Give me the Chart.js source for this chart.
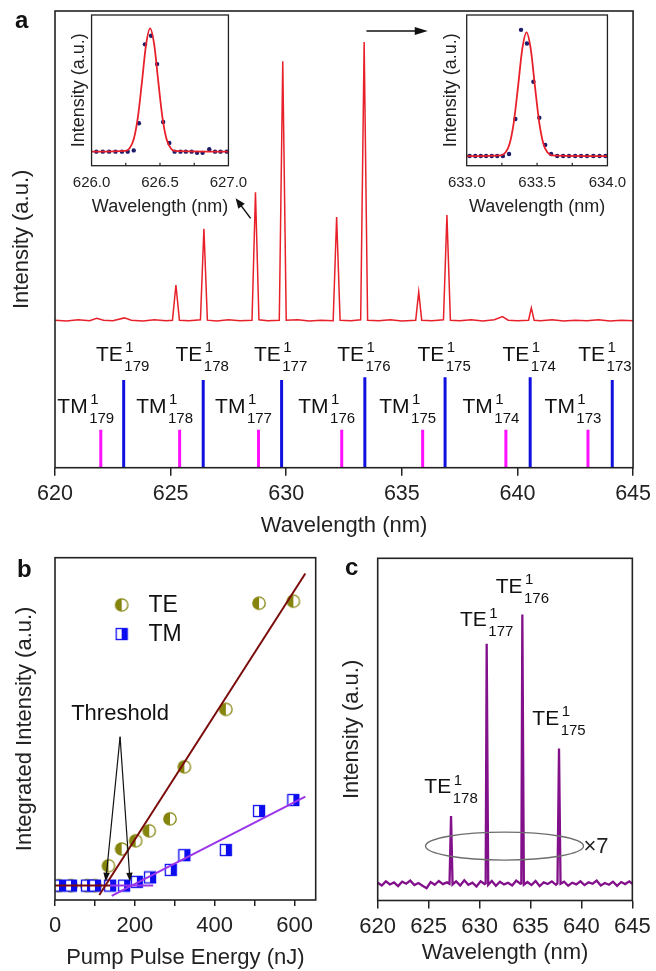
<!DOCTYPE html>
<html>
<head>
<meta charset="utf-8">
<script src="https://cdn.jsdelivr.net/npm/chart.js@4.4.0/dist/chart.umd.min.js"></script>
<style>
  body { margin: 0; background: #fff; width: 656px; height: 971px; overflow: hidden; position: relative; }
  .holder { position: absolute; }
  .tag { position: absolute; font: bold 24px "Liberation Sans", Arial, sans-serif; line-height: 24px; color: #111; }
</style>
</head>
<body>
<div class="holder" style="left:0;top:0;width:656px;height:539px"><canvas id="chartA"></canvas></div>
<div class="holder" style="left:65px;top:10px;width:190px;height:208px"><canvas id="insetL"></canvas></div>
<div class="holder" style="left:440px;top:10px;width:194px;height:208px"><canvas id="insetR"></canvas></div>
<div class="holder" style="left:12px;top:548px;width:312px;height:423px"><canvas id="chartB"></canvas></div>
<div class="holder" style="left:339px;top:548px;width:317px;height:418px"><canvas id="chartC"></canvas></div>
<div class="tag" style="left:15px;top:8px">a</div>
<div class="tag" style="left:17px;top:557px">b</div>
<div class="tag" style="left:345px;top:555px">c</div>
<script>
var FONT = '"Liberation Sans", Arial, Helvetica, sans-serif';
Chart.defaults.font.family = FONT;
Chart.defaults.color = '#222';
Chart.defaults.animation = false;
Chart.defaults.plugins.legend.display = false;
Chart.defaults.plugins.tooltip.enabled = false;

// ---------- panel a : lasing spectrum ----------
var aWave = [620.0, 620.5, 621.0, 621.5, 621.8, 622.1, 622.5, 623.0, 623.3, 623.8, 624.3, 624.8,
  625.08, 625.23, 625.38, 625.8, 626.29, 626.44, 626.59, 627.0, 627.5, 628.0, 628.52, 628.67, 628.82,
  629.2, 629.7, 629.85, 630.0, 630.5, 631.0, 631.5, 632.03, 632.18, 632.33, 632.8, 633.22, 633.37, 633.52,
  634.0, 634.5, 635.0, 635.6, 635.73, 635.86, 636.3, 636.8, 636.95, 637.1, 637.5, 638.0, 638.5,
  639.0, 639.35, 639.6, 640.0, 640.48, 640.6, 640.72, 641.0, 641.5, 642.0, 642.5, 643.0, 643.5, 644.0, 644.5, 645.0];
var aInt = [32.3, 32.1, 32.4, 32.2, 32.7, 32.3, 32.2, 32.8, 32.3, 32.1, 32.4, 32.2,
  32.3, 40.0, 32.3, 32.2, 32.4, 52.3, 32.3, 32.1, 32.4, 32.2, 32.3, 60.3, 32.4,
  32.2, 32.3, 89.0, 32.3, 32.4, 32.1, 32.3, 32.2, 54.9, 32.3, 32.2, 32.4, 93.2, 32.3,
  32.2, 32.4, 32.1, 32.3, 38.5, 32.3, 32.2, 32.4, 55.3, 32.3, 32.2, 32.4, 32.1,
  32.4, 33.1, 32.3, 32.2, 32.3, 35.0, 32.3, 32.2, 32.4, 32.1, 32.3, 32.2, 32.4, 32.1, 32.3, 32.2];
var teWave = [622.97, 626.41, 629.8, 633.4, 636.87, 640.55, 644.1];
var teTop = [19.2, 19.2, 19.2, 19.8, 19.8, 19.8, 19.2];
var tmWave = [621.98, 625.39, 628.8, 632.4, 635.9, 639.5, 643.05];
var tmTop = [8.3, 8.3, 8.3, 8.3, 8.3, 8.3, 8.3];
var modeOrder = ['179', '178', '177', '176', '175', '174', '173'];

// insets (measured points and Gaussian fit, normalised)
var insetLWave = [626.035, 626.082, 626.128, 626.175, 626.222, 626.264, 626.308, 626.346, 626.39, 626.435,
  626.479, 626.523, 626.568, 626.607, 626.65, 626.689, 626.731, 626.771, 626.811, 626.86, 626.902, 626.942, 626.988];
var insetLDots = [0, 0, 0, 0, 0, 0, 0.01, 0.23, 0.87, 0.94, 0.71, 0.24, 0.07, 0, 0, 0, 0, -0.01, -0.01, 0.02, 0, 0, 0];
var insetLFitWave = [626.0, 626.248, 626.278, 626.308, 626.338, 626.368, 626.398, 626.428, 626.458, 626.488,
  626.518, 626.548, 626.578, 626.608, 627.0];
var insetLFit = [0, 0.006, 0.028, 0.10, 0.275, 0.563, 0.866, 1.0, 0.866, 0.563, 0.275, 0.10, 0.028, 0.006, 0];
var insetLTicks = [626.0, 626.25, 626.5, 626.75, 627.0];

var insetRWave = [633.021, 633.061, 633.1, 633.138, 633.178, 633.217, 633.257, 633.301, 633.346, 633.386,
  633.428, 633.474, 633.516, 633.558, 633.6, 633.643, 633.685, 633.727, 633.771, 633.813, 633.855, 633.9, 633.944, 633.986];
var insetRDots = [0, 0, 0, 0, 0, 0, 0, 0.016, 0.30, 1.02, 0.91, 0.60, 0.31, 0.09, 0.016, 0, 0, 0, 0, 0, 0, 0, 0, 0];
var insetRFitWave = [633.0, 633.245, 633.275, 633.305, 633.335, 633.365, 633.395, 633.425, 633.455, 633.485,
  633.515, 633.545, 633.575, 633.605, 634.0];
var insetRFit = [0, 0.006, 0.028, 0.10, 0.275, 0.563, 0.866, 1.0, 0.866, 0.563, 0.275, 0.10, 0.028, 0.006, 0];
var insetRTicks = [633.0, 633.25, 633.5, 633.75, 634.0];

// ---------- panel b : integrated intensity vs pump ----------
var teEnergy = [10, 40, 80, 100, 134, 167, 202, 236, 288, 324, 428, 511, 597];
var teYield = [4.2, 4.2, 4.2, 4.2, 10.0, 14.9, 17.3, 20.2, 23.7, 38.9, 55.7, 86.7, 87.3];
var tmEnergy = [10, 40, 80, 100, 138, 173, 205, 238, 290, 324, 428, 511, 597];
var tmYield = [4.2, 4.2, 4.2, 4.2, 4.2, 4.2, 5.3, 6.6, 8.8, 13.1, 14.6, 26.0, 29.2];
var teFitE = [111, 627], teFitY = [1.46, 95.4];
var teFlatE = [0, 138], teFlatY = [4.2, 4.2];
var tmFitE = [142, 627], tmFitY = [1.2, 30.2];
var tmFlatE = [138, 246], tmFlatY = [4.2, 4.2];
var thrApex = [163, 47.7];
var thrTips = [[127, 5.35], [188, 5.35]];
var bTicks = [0, 100, 200, 300, 400, 500, 600];

// ---------- panel c : TE-only spectrum ----------
var cWave = [620.0, 620.4, 620.8, 621.2, 621.6, 622.0, 622.4, 622.8, 623.2, 623.6, 624.0, 624.4, 624.8, 625.2,
  625.6, 626.0, 626.4, 626.8, 627.05, 627.2, 627.35, 627.7, 628.1, 628.5, 628.9, 629.3, 629.7, 630.1, 630.5,
  630.6, 630.7, 630.85, 631.2, 631.6, 632.0, 632.4, 632.8, 633.2, 633.6, 634.0, 634.1, 634.2, 634.35, 634.7,
  635.1, 635.5, 635.9, 636.3, 636.7, 637.1, 637.5, 637.65, 637.8, 637.95, 638.3, 638.7, 639.1, 639.5, 639.9,
  640.3, 640.7, 641.1, 641.5, 641.9, 642.3, 642.7, 643.1, 643.5, 643.9, 644.3, 644.7, 645.0];
var cInt = [5.2, 4.4, 5.6, 4.7, 5.3, 4.2, 5.5, 4.9, 5.8, 4.5, 5.1, 4.3, 3.6, 5.4,
  4.6, 5.7, 4.8, 5.3, 4.9, 24.7, 4.7, 5.6, 4.4, 5.9, 4.6, 5.2, 4.1, 5.6, 4.8,
  5.0, 75.0, 4.6, 5.7, 4.3, 5.5, 4.7, 5.2, 4.4, 5.8, 4.9, 5.0, 83.6, 4.6, 5.4,
  4.5, 5.7, 4.2, 5.3, 4.8, 5.6, 4.6, 5.0, 44.4, 4.9, 5.5, 4.3, 5.2, 4.7, 5.6,
  4.5, 5.3, 4.9, 5.8, 4.4, 5.1, 4.6, 5.5, 4.3, 5.4, 4.8, 5.6, 4.9];
var cPeakWave = [627.2, 630.7, 634.2, 637.8];
var cPeakLabel = ['178', '177', '176', '175'];
var cLabelY = [31.3, 80.1, 89.9, 51.4];

function pts(xs, ys) {
  return xs.map(function (x, i) { return {x: x, y: ys[i]}; });
}

function sticks(xs, tops) {
  var out = [];
  xs.forEach(function (x, i) {
    out.push({x: x, y: 0}, {x: x, y: tops[i]}, {x: x, y: null});
  });
  return out;
}

// box round the plot area
var boxPlugin = {
  id: 'box',
  afterDatasetsDraw: function (chart, args, opts) {
    var a = chart.chartArea, ctx = chart.ctx;
    ctx.save();
    ctx.strokeStyle = '#222';
    ctx.lineWidth = opts.width || 1.5;
    ctx.strokeRect(a.left, a.top, a.right - a.left, a.bottom - a.top);
    ctx.restore();
  }
};

// TE/TM with super- and subscript
function modeLabel(ctx, cx, baseY, main, sup, sub, maxRight) {
  ctx.font = '21px ' + FONT;
  var wMain = ctx.measureText(main).width;
  ctx.font = '15px ' + FONT;
  var wSmall = Math.max(ctx.measureText(sup).width, ctx.measureText(sub).width);
  var total = wMain + 1.5 + wSmall;
  var x0 = cx - total / 2;
  if (maxRight && x0 + total > maxRight) x0 = maxRight - total;
  ctx.fillStyle = '#111';
  ctx.textAlign = 'left';
  ctx.textBaseline = 'alphabetic';
  ctx.font = '21px ' + FONT;
  ctx.fillText(main, x0, baseY);
  ctx.font = '15px ' + FONT;
  ctx.fillText(sup, x0 + wMain + 2.5, baseY - 8.4);
  ctx.fillText(sub, x0 + wMain + 1.5, baseY + 10);
}

function arrow(ctx, x1, y1, x2, y2, len, half) {
  var ang = Math.atan2(y2 - y1, x2 - x1);
  ctx.beginPath();
  ctx.moveTo(x1, y1);
  ctx.lineTo(x2 - Math.cos(ang) * len * 0.8, y2 - Math.sin(ang) * len * 0.8);
  ctx.stroke();
  ctx.beginPath();
  ctx.moveTo(x2, y2);
  ctx.lineTo(x2 - Math.cos(ang) * len - Math.sin(ang) * half, y2 - Math.sin(ang) * len + Math.cos(ang) * half);
  ctx.lineTo(x2 - Math.cos(ang) * len + Math.sin(ang) * half, y2 - Math.sin(ang) * len - Math.cos(ang) * half);
  ctx.closePath();
  ctx.fill();
}

var spectrumNotes = {
  id: 'spectrumNotes',
  afterDatasetsDraw: function (chart) {
    var ctx = chart.ctx, xs = chart.scales.x, ys = chart.scales.y;
    ctx.save();
    teWave.forEach(function (w, i) {
      modeLabel(ctx, xs.getPixelForValue(w) - 1, ys.getPixelForValue(23.4), 'TE', '1', modeOrder[i], chart.chartArea.right - 1.5);
    });
    tmWave.forEach(function (w, i) {
      modeLabel(ctx, xs.getPixelForValue(w) - 15, ys.getPixelForValue(12.0), 'TM', '1', modeOrder[i]);
    });
    ctx.strokeStyle = '#111';
    ctx.fillStyle = '#111';
    ctx.lineWidth = 1.5;
    arrow(ctx, xs.getPixelForValue(633.47), ys.getPixelForValue(95.6), xs.getPixelForValue(636.12), ys.getPixelForValue(95.6), 13, 4);
    arrow(ctx, xs.getPixelForValue(628.46), ys.getPixelForValue(54.6), xs.getPixelForValue(627.81), ys.getPixelForValue(59.0), 10, 4);
    ctx.restore();
  }
};

var chartA = new Chart(document.getElementById('chartA'), {
  type: 'scatter',
  data: {
    datasets: [
      {data: pts(aWave, aInt), showLine: true, borderColor: '#e8202a', borderWidth: 1.5, pointRadius: 0},
      {data: sticks(teWave, teTop), showLine: true, borderColor: '#1010e0', borderWidth: 3, pointRadius: 0, spanGaps: false},
      {data: sticks(tmWave, tmTop), showLine: true, borderColor: '#ff10ff', borderWidth: 3, pointRadius: 0, spanGaps: false}
    ]
  },
  options: {
    responsive: true,
    maintainAspectRatio: false,
    layout: {padding: {left: 9, right: 19.5, top: 11, bottom: 0}},
    scales: {
      x: {
        min: 620, max: 645,
        ticks: {stepSize: 5, font: {size: 21.5}, padding: 5, maxRotation: 0},
        grid: {drawOnChartArea: false, tickLength: 8, color: '#222', tickColor: '#222', lineWidth: 1.5},
        border: {display: false},
        title: {display: true, text: 'Wavelength (nm)', font: {size: 22}, padding: 0},
        afterFit: function (s) { s.height = 71.3; }
      },
      y: {
        min: 0, max: 100,
        ticks: {display: false},
        grid: {display: false},
        border: {display: false},
        title: {display: true, text: 'Intensity (a.u.)', font: {size: 22}, padding: 0},
        afterFit: function (s) { s.width = 46; }
      }
    },
    plugins: {box: {width: 1.6}}
  },
  plugins: [boxPlugin, spectrumNotes]
});

var insetTicks = {
  id: 'insetTicks',
  afterDatasetsDraw: function (chart) {
    var ctx = chart.ctx, a = chart.chartArea, xs = chart.scales.x;
    ctx.save();
    ctx.strokeStyle = '#222';
    ctx.lineWidth = 1.2;
    xs.ticks.forEach(function (t) {
      var px = xs.getPixelForValue(t.value);
      if (px > a.left + 2 && px < a.right - 2) {
        ctx.beginPath();
        ctx.moveTo(px, a.bottom);
        ctx.lineTo(px, a.bottom - 3);
        ctx.stroke();
      }
    });
    ctx.restore();
  }
};

function makeInset(id, dotX, dotY, fitX, fitY, tickVals, yMin, yMax, yWidth) {
  return new Chart(document.getElementById(id), {
    type: 'scatter',
    data: {
      datasets: [
        {data: pts(fitX, fitY), showLine: true, borderColor: '#e8202a', borderWidth: 1.8, pointRadius: 0, cubicInterpolationMode: 'monotone'},
        {data: pts(dotX, dotY), pointRadius: 2.2, pointBackgroundColor: '#1c1c6a', pointBorderColor: '#1c1c6a', borderWidth: 0}
      ]
    },
    options: {
      responsive: true,
      maintainAspectRatio: false,
      layout: {padding: {left: 0, right: 24, top: 5, bottom: 0}},
      scales: {
        x: {
          min: tickVals[0], max: tickVals[tickVals.length - 1],
          afterBuildTicks: function (s) { s.ticks = tickVals.map(function (v) { return {value: v}; }); },
          ticks: {
            font: {size: 15}, padding: 7.8, maxRotation: 0, autoSkip: false,
            callback: function (v) { return Math.abs(v * 2 - Math.round(v * 2)) < 1e-6 ? v.toFixed(1) : ''; }
          },
          grid: {display: false, drawTicks: false},
          border: {display: false},
          title: {display: true, text: 'Wavelength (nm)', font: {size: 18}, padding: 0},
          afterFit: function (s) { s.height = 52.3; }
        },
        y: {
          min: yMin, max: yMax,
          ticks: {display: false},
          grid: {display: false, drawTicks: false},
          border: {display: false},
          title: {display: true, text: 'Intensity (a.u.)', font: {size: 18}, padding: 0},
          afterFit: function (s) { s.width = yWidth; }
        }
      },
      plugins: {box: {width: 1.3}}
    },
    plugins: [boxPlugin, insetTicks]
  });
}

makeInset('insetL', insetLWave, insetLDots, insetLFitWave, insetLFit, insetLTicks, -0.114, 1.108, 23.3);
makeInset('insetR', insetRWave, insetRDots, insetRFitWave, insetRFit, insetRTicks, -0.078, 1.14, 26.7);

// ---------- panel b ----------
function halfCircle() {
  var c = document.createElement('canvas');
  c.width = 16; c.height = 16;
  var g = c.getContext('2d');
  g.fillStyle = '#fff';
  g.beginPath(); g.arc(8, 8, 6.2, 0, Math.PI * 2); g.fill();
  g.fillStyle = '#85850e';
  g.beginPath(); g.arc(8, 8, 6.2, Math.PI / 2, Math.PI * 1.5); g.closePath(); g.fill();
  g.strokeStyle = '#85850e'; g.lineWidth = 1.3;
  g.beginPath(); g.arc(8, 8, 6.2, 0, Math.PI * 2); g.stroke();
  return c;
}

function halfSquare() {
  var c = document.createElement('canvas');
  c.width = 14; c.height = 14;
  var g = c.getContext('2d');
  g.fillStyle = '#fff';
  g.fillRect(1.5, 1.5, 11, 11);
  g.fillStyle = '#0c0cf0';
  g.fillRect(7, 1.5, 5.5, 11);
  g.strokeStyle = '#0c0cf0'; g.lineWidth = 1.3;
  g.strokeRect(1.5, 1.5, 11, 11);
  return c;
}

var teMark = halfCircle();
var tmMark = halfSquare();

var pumpNotes = {
  id: 'pumpNotes',
  afterDatasetsDraw: function (chart) {
    var ctx = chart.ctx, xs = chart.scales.x, ys = chart.scales.y;
    ctx.save();
    // legend
    var lx = xs.getPixelForValue(167);
    ctx.drawImage(teMark, lx - 8, ys.getPixelForValue(86.2) - 8);
    ctx.drawImage(tmMark, lx - 7, ys.getPixelForValue(77.7) - 7);
    ctx.fillStyle = '#111';
    ctx.font = '23px ' + FONT;
    ctx.textAlign = 'left';
    ctx.textBaseline = 'middle';
    ctx.fillText('TE', xs.getPixelForValue(234), ys.getPixelForValue(86.2) + 1);
    ctx.fillText('TM', xs.getPixelForValue(234), ys.getPixelForValue(77.7) + 1);
    // threshold
    ctx.font = '22px ' + FONT;
    ctx.textAlign = 'center';
    ctx.fillText('Threshold', xs.getPixelForValue(thrApex[0]), ys.getPixelForValue(54.5));
    ctx.strokeStyle = '#111';
    ctx.lineWidth = 1.2;
    thrTips.forEach(function (t) {
      arrow(ctx, xs.getPixelForValue(thrApex[0]), ys.getPixelForValue(thrApex[1]),
        xs.getPixelForValue(t[0]), ys.getPixelForValue(t[1]), 9, 3.2);
    });
    ctx.restore();
  }
};

var chartB = new Chart(document.getElementById('chartB'), {
  type: 'scatter',
  data: {
    datasets: [
      {data: pts(teFlatE, teFlatY), showLine: true, borderColor: '#7a0c0c', borderWidth: 2, pointRadius: 0},
      {data: pts(teFitE, teFitY), showLine: true, borderColor: '#7a0c0c', borderWidth: 2, pointRadius: 0},
      {data: pts(tmFlatE, tmFlatY), showLine: true, borderColor: '#9a35ea', borderWidth: 2, pointRadius: 0},
      {data: pts(tmFitE, tmFitY), showLine: true, borderColor: '#9a35ea', borderWidth: 2, pointRadius: 0},
      {data: pts(tmEnergy, tmYield), pointStyle: tmMark, pointRadius: 6},
      {data: pts(teEnergy, teYield), pointStyle: teMark, pointRadius: 7}
    ]
  },
  options: {
    responsive: true,
    maintainAspectRatio: false,
    layout: {padding: {left: 0, right: 8.3, top: 9.7, bottom: 0}},
    scales: {
      x: {
        min: 0, max: 653,
        afterBuildTicks: function (s) { s.ticks = bTicks.map(function (v) { return {value: v}; }); },
        ticks: {
          font: {size: 22}, padding: 6.6, maxRotation: 0, autoSkip: false,
          callback: function (v) { return v % 200 === 0 ? v : ''; }
        },
        grid: {drawOnChartArea: false, tickLength: 6, color: '#222', tickColor: '#222', lineWidth: 1.5},
        border: {display: false},
        title: {display: true, text: 'Pump Pulse Energy (nJ)', font: {size: 22}, padding: 0},
        afterFit: function (s) { s.height = 71; }
      },
      y: {
        min: 0, max: 100,
        ticks: {display: false},
        grid: {display: false},
        border: {display: false},
        title: {display: true, text: 'Integrated Intensity (a.u.)', font: {size: 22}, padding: 0},
        afterFit: function (s) { s.width = 43; }
      }
    },
    plugins: {box: {width: 1.6}}
  },
  plugins: [boxPlugin, pumpNotes]
});

// ---------- panel c ----------
var teOnlyNotes = {
  id: 'teOnlyNotes',
  afterDatasetsDraw: function (chart) {
    var ctx = chart.ctx, xs = chart.scales.x, ys = chart.scales.y;
    ctx.save();
    cPeakWave.forEach(function (w, i) {
      modeLabel(ctx, xs.getPixelForValue(w), ys.getPixelForValue(cLabelY[i]), 'TE', '1', cPeakLabel[i]);
    });
    var ex = xs.getPixelForValue(632.45), ey = ys.getPixelForValue(15.9);
    ctx.strokeStyle = '#6e6e6e';
    ctx.lineWidth = 1.4;
    ctx.beginPath();
    ctx.ellipse(ex, ey, 79, 14, 0, 0, Math.PI * 2);
    ctx.stroke();
    ctx.fillStyle = '#222';
    ctx.font = '22px ' + FONT;
    ctx.textAlign = 'left';
    ctx.textBaseline = 'middle';
    ctx.fillText('\u00d77', xs.getPixelForValue(640.2), ey + 1);
    ctx.restore();
  }
};

var chartC = new Chart(document.getElementById('chartC'), {
  type: 'scatter',
  data: {
    datasets: [
      {data: pts(cWave, cInt), showLine: true, borderColor: '#82108a', borderWidth: 2.3, pointRadius: 0}
    ]
  },
  options: {
    responsive: true,
    maintainAspectRatio: false,
    layout: {padding: {left: 0, right: 19.3, top: 10.3, bottom: 0}},
    scales: {
      x: {
        min: 620, max: 645,
        ticks: {stepSize: 5, font: {size: 22}, padding: 5.3, maxRotation: 0},
        grid: {drawOnChartArea: false, tickLength: 8, color: '#222', tickColor: '#222', lineWidth: 1.5},
        border: {display: false},
        title: {display: true, text: 'Wavelength (nm)', font: {size: 22}, padding: 0},
        afterFit: function (s) { s.height = 65.5; }
      },
      y: {
        min: 0, max: 100,
        ticks: {display: false},
        grid: {display: false},
        border: {display: false},
        title: {display: true, text: 'Intensity (a.u.)', font: {size: 22}, padding: 0},
        afterFit: function (s) { s.width = 38.7; }
      }
    },
    plugins: {box: {width: 1.6}}
  },
  plugins: [boxPlugin, teOnlyNotes]
});
</script>
</body>
</html>
